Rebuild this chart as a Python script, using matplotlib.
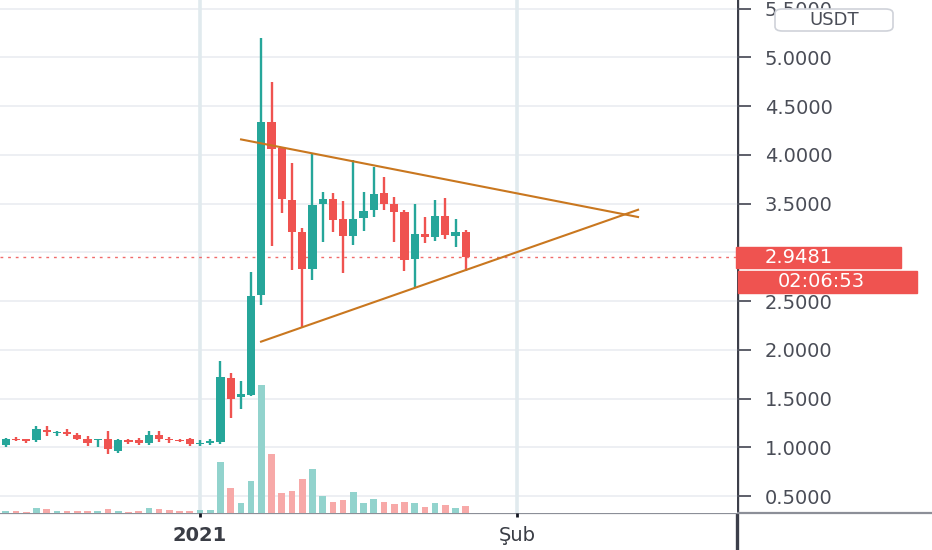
import matplotlib
matplotlib.use("Agg")
import matplotlib.pyplot as plt
import matplotlib.dates as mdates
import matplotlib.transforms as mtrans
from matplotlib.patches import Rectangle, FancyBboxPatch
from matplotlib.lines import Line2D
import numpy as np
import pandas as pd

# daily candles, 13 Dec 2020 .. 27 Jan 2021 (USDT)
dates = pd.date_range("2020-12-13", "2021-01-27", freq="D")
opens = [1.02, 1.09, 1.08, 1.07, 1.18, 1.15, 1.16, 1.13, 1.09, 1.07,
         1.09, 0.96, 1.07, 1.07, 1.04, 1.13, 1.09, 1.07, 1.08,
         1.03, 1.04, 1.05, 1.71, 1.52, 1.54, 2.56, 4.34, 4.07, 3.54,
         3.21, 2.83, 3.50, 3.55, 3.34, 3.17, 3.35, 3.43, 3.61, 3.50,
         3.41, 2.93, 3.19, 3.16, 3.37, 3.17, 3.21]
highs = [1.10, 1.11, 1.09, 1.22, 1.22, 1.17, 1.19, 1.15, 1.12, 1.09,
         1.17, 1.08, 1.09, 1.10, 1.17, 1.17, 1.11, 1.08, 1.10,
         1.07, 1.09, 1.89, 1.76, 1.68, 2.80, 5.20, 4.75, 4.08, 3.92,
         3.25, 4.01, 3.62, 3.61, 3.53, 3.95, 3.62, 3.88, 3.77, 3.57,
         3.43, 3.50, 3.36, 3.54, 3.56, 3.34, 3.23]
lows = [1.00, 1.06, 1.04, 1.05, 1.12, 1.12, 1.12, 1.07, 1.01, 1.00,
        0.93, 0.94, 1.03, 1.02, 1.02, 1.05, 1.04, 1.05, 1.01,
        1.01, 1.02, 1.03, 1.30, 1.39, 1.53, 2.46, 3.06, 3.40, 2.82,
        2.23, 2.72, 3.11, 3.21, 2.79, 3.07, 3.22, 3.36, 3.43, 3.11,
        2.81, 2.63, 3.10, 3.12, 3.14, 3.05, 2.81]
closes = [1.09, 1.07, 1.06, 1.19, 1.16, 1.16, 1.14, 1.09, 1.04, 1.08,
          0.98, 1.07, 1.05, 1.04, 1.13, 1.08, 1.07, 1.06, 1.03,
          1.04, 1.06, 1.72, 1.50, 1.55, 2.55, 4.34, 4.06, 3.55, 3.21,
          2.83, 3.49, 3.55, 3.33, 3.17, 3.34, 3.42, 3.60, 3.50, 3.41,
          2.92, 3.19, 3.16, 3.37, 3.18, 3.21, 2.9481]
volumes = [2.7, 2.0, 1.7, 5.0, 4.3, 2.0, 2.0, 2.0, 2.0, 2.0,
           4.7, 2.0, 1.7, 2.3, 5.0, 4.7, 3.7, 2.7, 2.7,
           3.3, 3.3, 51.7, 25.0, 10.0, 32.7, 128.0, 59.3, 20.0, 22.7,
           34.0, 44.0, 17.3, 11.3, 13.3, 21.3, 10.7, 14.0, 11.3, 9.3,
           11.7, 10.0, 6.0, 10.3, 8.3, 5.0, 7.7]

# symmetrical triangle drawn on the chart
upper_line_t = ["2021-01-04 22:00", "2021-02-12 23:00"]
upper_line_p = [4.16, 3.36]
lower_line_t = ["2021-01-06 21:00", "2021-02-12 23:00"]
lower_line_p = [2.08, 3.44]

price_ticks = [0.5, 1.0, 1.5, 2.0, 2.5, 3.0, 3.5, 4.0, 4.5, 5.0, 5.5]
x_ticks = ["2021-01-01", "2021-02-01"]
x_labels = ["2021", "Şub"]
countdown = "02:06:53"

GREEN = "#26a69a"
RED = "#ef5350"
GRID = "#eceef2"
TXT = "#4a4d57"

W, H = 932, 550
AX_R, AX_B = 737, 513.3
fig = plt.figure(figsize=(W / 100, H / 100), dpi=100)
rect = [0, (H - AX_B) / H, AX_R / W, AX_B / H]
vax = fig.add_axes(rect)
ax = fig.add_axes(rect, sharex=vax)
ax.set_zorder(2)
vax.set_zorder(1)
ax.patch.set_visible(False)

x = mdates.date2num(dates)
o = np.array(opens)
c = np.array(closes)
h = np.array(highs)
l = np.array(lows)
up = c >= o
cols = np.where(up, GREEN, RED)

ax.set_xlim(mdates.date2num(pd.Timestamp("2020-12-12 10:20")),
            mdates.date2num(pd.Timestamp("2021-02-22 13:00")))
ax.set_ylim(0.323, 5.588)

# grid on the volume axes so it sits beneath everything
blend = mtrans.blended_transform_factory(vax.transAxes, ax.transData)
for p in price_ticks:
    vax.add_line(Line2D([0, 1], [p, p], transform=blend, color=GRID, lw=1.3, zorder=0))
for t in x_ticks:
    vax.axvline(mdates.date2num(pd.Timestamp(t)), color="#e1eaee", lw=2.6, zorder=0)

# volume
vcols = np.where(up, "#92d3cd", "#f7a9a8")
vax.bar(x, volumes, width=0.65, color=vcols, zorder=2)
vax.set_ylim(0, max(volumes) * AX_B / 128.0)
vax.set_yticks([])
vax.tick_params(axis="x", bottom=False, labelbottom=False)
for s in vax.spines.values():
    s.set_visible(False)

# candles
ax.vlines(x, l, h, color=cols, lw=1.7, zorder=3)
body = np.maximum(np.abs(c - o), 0.012)
ax.bar(x, body, bottom=np.minimum(o, c), width=0.8, color=cols, zorder=4)

# triangle
ax.plot(mdates.date2num(pd.to_datetime(upper_line_t)), upper_line_p,
        color="#c9771f", lw=1.5, zorder=5, solid_capstyle="butt")
ax.plot(mdates.date2num(pd.to_datetime(lower_line_t)), lower_line_p,
        color="#c9771f", lw=1.5, zorder=5, solid_capstyle="butt")

# last price line
last = closes[-1]
ax.axhline(last, color="#f06b6b", lw=1.0, ls=(0, (2, 3.5)), zorder=2)

for s in ax.spines.values():
    s.set_visible(False)
ax.yaxis.tick_right()
ax.set_yticks(price_ticks)
# the 3.0000 label sits under the last-price badge, so leave it blank
ax.set_yticklabels(["" if p == 3.0 else f"{p:.4f}" for p in price_ticks])
ax.tick_params(axis="y", direction="out", length=9.8, width=1.3, pad=10.3,
               labelsize=14, colors="#50535e", labelcolor=TXT)
ax.set_xticks([mdates.date2num(pd.Timestamp(t)) for t in x_ticks])
ax.set_xticklabels(x_labels)
ax.tick_params(axis="x", direction="out", length=3, width=2, pad=6,
               labelsize=14, colors="#131722", labelcolor="#3a3d45")
ax.get_xticklabels()[0].set_fontweight("bold")

# pane separators
fig.add_artist(Line2D([AX_R / W] * 2, [0, 1], transform=fig.transFigure,
                      color="#3c3f4a", lw=2.4, zorder=1))
fig.add_artist(Line2D([0, 1], [(H - AX_B) / H] * 2, transform=fig.transFigure,
                      color="#8c8f98", lw=1.6, zorder=1))

# price label + countdown
fblend = mtrans.blended_transform_factory(fig.transFigure, ax.transData)
bh = 21.6 / 97.5
fig.add_artist(Rectangle((736 / W, last - bh / 2), 165 / W, bh, transform=fblend,
                         color=RED, zorder=5))
fig.text(765 / W, last, f"{last:.4f}", transform=fblend, color="white",
         fontsize=14, va="center", ha="left", zorder=6)
cy = last - 0.252
ch = 22.0 / 97.5
fig.add_artist(Rectangle((738 / W, cy - ch / 2), 179 / W, ch, transform=fblend,
                         color=RED, zorder=5))
fig.text(821 / W, cy, countdown, transform=fblend, color="white",
         fontsize=14, va="center", ha="center", zorder=6)

# currency badge
fig.add_artist(FancyBboxPatch((775 / W, 1 - 31 / H), 118 / W, 22 / H,
                              boxstyle="round,pad=0,rounding_size=0.008",
                              transform=fig.transFigure, facecolor="white",
                              edgecolor="#cfd2d9", lw=1.2, zorder=5))
fig.text(834 / W, 1 - 20 / H, "USDT", color=TXT, fontsize=13,
         ha="center", va="center", zorder=6)

fig.savefig("out.png", dpi=100, facecolor="white")
